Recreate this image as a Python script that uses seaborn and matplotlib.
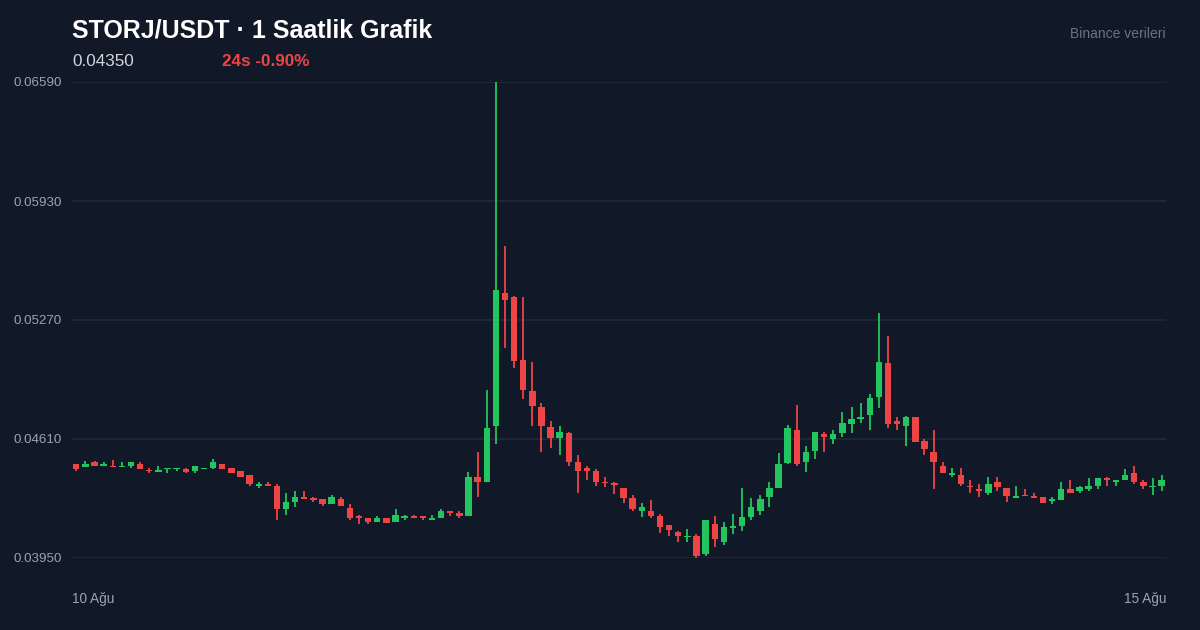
import matplotlib
matplotlib.use("Agg")
import matplotlib.pyplot as plt
import seaborn as sns
import numpy as np
import pandas as pd

# hourly candles, 10 Aug -> 15 Aug (120 bars)
opens = [
    0.04471, 0.04455, 0.04480, 0.04460, 0.04462, 0.04452, 0.04462, 0.04471, 0.04440, 0.04429,
    0.04442, 0.04442, 0.04442, 0.04431, 0.04442, 0.04451, 0.04471, 0.04451, 0.04431, 0.04410,
    0.04349, 0.04360, 0.04349, 0.04222, 0.04261, 0.04290, 0.04281, 0.04279, 0.04251, 0.04279,
    0.04229, 0.04181, 0.04170, 0.04150, 0.04170, 0.04150, 0.04170, 0.04181, 0.04181, 0.04161,
    0.04170, 0.04211, 0.04201, 0.04183, 0.04398, 0.04370, 0.04684, 0.05418, 0.05399, 0.05048,
    0.04878, 0.04789, 0.04678, 0.04614, 0.04642, 0.04481, 0.04451, 0.04433, 0.04373, 0.04364,
    0.04340, 0.04281, 0.04212, 0.04212, 0.04183, 0.04133, 0.04093, 0.04065, 0.04072, 0.03971,
    0.04139, 0.04040, 0.04118, 0.04129, 0.04179, 0.04211, 0.04290, 0.04340, 0.04475, 0.04660,
    0.04481, 0.04543, 0.04638, 0.04612, 0.04642, 0.04692, 0.04721, 0.04743, 0.04845, 0.05030,
    0.04708, 0.04682, 0.04730, 0.04599, 0.04540, 0.04462, 0.04412, 0.04410, 0.04351, 0.04333,
    0.04312, 0.04372, 0.04340, 0.04281, 0.04301, 0.04292, 0.04290, 0.04266, 0.04272, 0.04331,
    0.04322, 0.04331, 0.04351, 0.04392, 0.04373, 0.04383, 0.04420, 0.04372, 0.04342, 0.04351,
]
highs = [
    0.04473, 0.04488, 0.04488, 0.04482, 0.04491, 0.04482, 0.04481, 0.04481, 0.04451, 0.04460,
    0.04451, 0.04451, 0.04451, 0.04460, 0.04451, 0.04501, 0.04471, 0.04451, 0.04431, 0.04410,
    0.04372, 0.04372, 0.04360, 0.04311, 0.04322, 0.04322, 0.04290, 0.04279, 0.04299, 0.04290,
    0.04250, 0.04190, 0.04170, 0.04181, 0.04170, 0.04222, 0.04190, 0.04190, 0.04181, 0.04190,
    0.04222, 0.04211, 0.04211, 0.04429, 0.04540, 0.04882, 0.06590, 0.05680, 0.05402, 0.05399,
    0.05039, 0.04808, 0.04710, 0.04682, 0.04649, 0.04521, 0.04460, 0.04442, 0.04401, 0.04373,
    0.04340, 0.04301, 0.04253, 0.04272, 0.04192, 0.04133, 0.04101, 0.04113, 0.04081, 0.04161,
    0.04183, 0.04151, 0.04192, 0.04340, 0.04281, 0.04299, 0.04373, 0.04531, 0.04688, 0.04799,
    0.04571, 0.04651, 0.04651, 0.04660, 0.04760, 0.04789, 0.04808, 0.04858, 0.05310, 0.05181,
    0.04730, 0.04735, 0.04730, 0.04610, 0.04660, 0.04482, 0.04451, 0.04451, 0.04383, 0.04362,
    0.04401, 0.04401, 0.04340, 0.04351, 0.04333, 0.04311, 0.04290, 0.04290, 0.04372, 0.04383,
    0.04351, 0.04392, 0.04392, 0.04401, 0.04383, 0.04442, 0.04460, 0.04383, 0.04392, 0.04410,
]
lows = [
    0.04433, 0.04455, 0.04463, 0.04460, 0.04452, 0.04452, 0.04451, 0.04442, 0.04421, 0.04429,
    0.04421, 0.04431, 0.04421, 0.04420, 0.04442, 0.04442, 0.04442, 0.04421, 0.04401, 0.04349,
    0.04340, 0.04351, 0.04161, 0.04190, 0.04231, 0.04279, 0.04261, 0.04240, 0.04251, 0.04240,
    0.04161, 0.04140, 0.04140, 0.04150, 0.04143, 0.04150, 0.04161, 0.04170, 0.04161, 0.04161,
    0.04170, 0.04181, 0.04170, 0.04183, 0.04290, 0.04370, 0.04582, 0.05113, 0.05002, 0.04832,
    0.04682, 0.04540, 0.04562, 0.04521, 0.04462, 0.04312, 0.04383, 0.04351, 0.04342, 0.04303,
    0.04253, 0.04212, 0.04179, 0.04170, 0.04090, 0.04072, 0.04040, 0.04040, 0.03952, 0.03961,
    0.04013, 0.04022, 0.04081, 0.04101, 0.04161, 0.04189, 0.04231, 0.04340, 0.04470, 0.04460,
    0.04429, 0.04499, 0.04540, 0.04581, 0.04623, 0.04642, 0.04700, 0.04660, 0.04780, 0.04673,
    0.04660, 0.04571, 0.04592, 0.04521, 0.04331, 0.04421, 0.04401, 0.04351, 0.04312, 0.04290,
    0.04301, 0.04322, 0.04262, 0.04281, 0.04292, 0.04281, 0.04253, 0.04251, 0.04272, 0.04312,
    0.04312, 0.04322, 0.04331, 0.04351, 0.04351, 0.04383, 0.04360, 0.04331, 0.04301, 0.04322,
]
closes = [
    0.04444, 0.04471, 0.04463, 0.04469, 0.04452, 0.04462, 0.04481, 0.04442, 0.04430, 0.04438,
    0.04451, 0.04451, 0.04429, 0.04460, 0.04451, 0.04481, 0.04442, 0.04421, 0.04401, 0.04360,
    0.04363, 0.04351, 0.04222, 0.04261, 0.04290, 0.04279, 0.04270, 0.04250, 0.04290, 0.04240,
    0.04170, 0.04170, 0.04150, 0.04170, 0.04143, 0.04190, 0.04181, 0.04170, 0.04170, 0.04170,
    0.04211, 0.04201, 0.04181, 0.04398, 0.04373, 0.04669, 0.05436, 0.05381, 0.05044, 0.04882,
    0.04793, 0.04682, 0.04614, 0.04651, 0.04481, 0.04433, 0.04433, 0.04373, 0.04364, 0.04353,
    0.04281, 0.04222, 0.04233, 0.04183, 0.04124, 0.04104, 0.04074, 0.04074, 0.03961, 0.04161,
    0.04054, 0.04120, 0.04129, 0.04179, 0.04231, 0.04277, 0.04338, 0.04471, 0.04671, 0.04470,
    0.04540, 0.04651, 0.04623, 0.04638, 0.04699, 0.04721, 0.04732, 0.04839, 0.05039, 0.04692,
    0.04692, 0.04730, 0.04592, 0.04553, 0.04482, 0.04421, 0.04423, 0.04362, 0.04342, 0.04322,
    0.04360, 0.04342, 0.04292, 0.04292, 0.04292, 0.04281, 0.04253, 0.04277, 0.04331, 0.04312,
    0.04342, 0.04351, 0.04392, 0.04381, 0.04383, 0.04410, 0.04372, 0.04351, 0.04351, 0.04383,
]

y_ticks = [0.03950, 0.04610, 0.05270, 0.05930, 0.06590]
date_labels = ["10 Ağu", "15 Ağu"]

df = pd.DataFrame({"open": opens, "high": highs, "low": lows, "close": closes})
df["idx"] = np.arange(len(df))
df["up"] = df["close"] >= df["open"]

BG = "#111827"
GREEN = "#22c55e"
RED = "#ef4444"
GRID = "#1f2937"

sns.set_theme(style="dark", rc={"axes.facecolor": BG, "figure.facecolor": BG})
plt.rcParams["font.family"] = ["Liberation Sans", "DejaVu Sans"]

fig = plt.figure(figsize=(12, 6.3), dpi=100)
ax = fig.add_axes([72 / 1200, 1 - 558 / 630, 1094 / 1200, 476 / 630])
ax.set_facecolor(BG)

colors = np.where(df["up"], GREEN, RED)

# wicks
ax.vlines(df["idx"], df["low"], df["high"], colors=colors, linewidth=1.3, zorder=2, clip_on=False)

# bodies (at least a sliver for dojis)
body_low = np.minimum(df["open"], df["close"])
body_h = np.maximum(np.abs(df["close"] - df["open"]), 0.00003)
ax.bar(df["idx"], body_h, bottom=body_low, width=0.7, color=colors, linewidth=0, zorder=3)

ax.set_xlim(-0.47, 119.48)
ax.set_ylim(0.03950, 0.06590)
ax.set_yticks(y_ticks)
ax.set_yticklabels([f"{v:.5f}" for v in y_ticks])
ax.set_xticks([])
ax.tick_params(axis="y", length=0, pad=7.5, labelsize=9.6, labelcolor="#9ca3af")
ax.grid(axis="y", color=GRID, linewidth=1.2, zorder=0)
ax.grid(axis="x", visible=False)
for s in ax.spines.values():
    s.set_visible(False)

# header
fig.text(72 / 1200, 1 - 38 / 630, "STORJ/USDT · 1 Saatlik Grafik", color="white",
         fontsize=18, fontweight="bold", va="baseline", ha="left")
fig.text(72 / 1200, 1 - 66 / 630, "0.04350", color="#d1d5db", fontsize=12.3,
         va="baseline", ha="left")
fig.text(222 / 1200, 1 - 66 / 630, "24s -0.90%", color=RED, fontsize=12.3,
         fontweight="bold", va="baseline", ha="left")
fig.text(1166 / 1200, 1 - 38 / 630, "Binance verileri", color="#6b7280", fontsize=10,
         va="baseline", ha="right")

# date labels under the chart
fig.text(72 / 1200, 1 - 599 / 630, date_labels[0], color="#9ca3af", fontsize=9.8,
         va="center", ha="left")
fig.text(1166 / 1200, 1 - 599 / 630, date_labels[1], color="#9ca3af", fontsize=9.8,
         va="center", ha="right")

fig.savefig("out.png", dpi=100, facecolor=BG)
